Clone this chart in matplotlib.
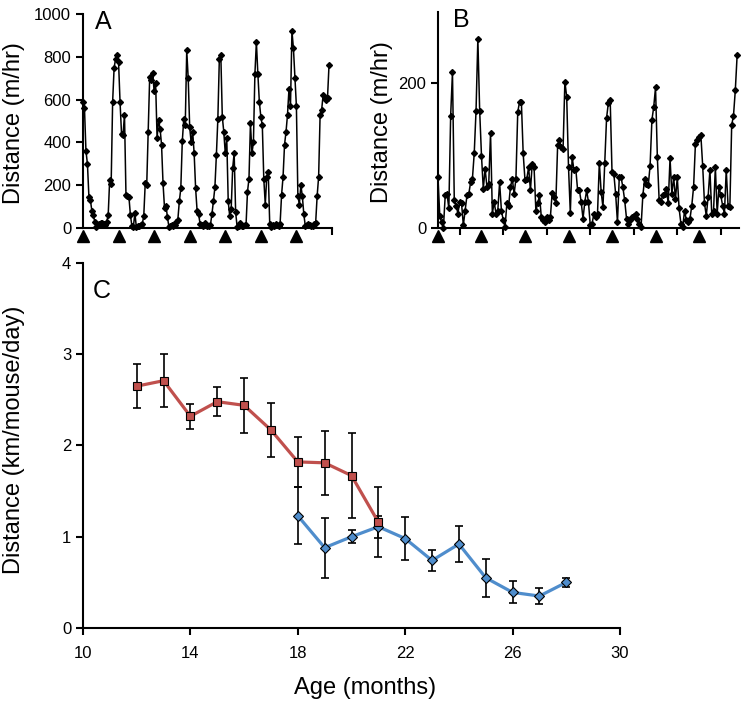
import matplotlib
matplotlib.use("Agg")
import matplotlib.pyplot as plt
import numpy as np

plt.rcParams['font.family'] = ['Liberation Sans', 'DejaVu Sans']

# panel A: hourly running distance (m/hr), one week
dist_a = [590, 560, 360, 300, 145, 130, 80, 60, 28, 5,
          15, 20, 25, 22, 18, 12, 30, 60, 225, 205,
          590, 750, 790, 810, 775, 590, 440, 435, 530, 155,
          150, 145, 60, 10, 5, 70, 5, 10, 8, 12,
          20, 55, 210, 200, 450, 705, 690, 725, 640, 680,
          420, 505, 465, 390, 210, 95, 105, 50, 5, 10,
          12, 8, 15, 28, 38, 125, 185, 405, 510, 480,
          830, 700, 470, 400, 450, 350, 185, 80, 65, 20,
          15, 10, 25, 12, 8, 10, 15, 65, 125, 190,
          340, 510, 790, 810, 520, 450, 350, 420, 125, 55,
          90, 280, 350, 75, 5, 10, 25, 10, 8, 15,
          12, 170, 230, 490, 350, 400, 720, 870, 720, 590,
          520, 480, 230, 110, 240, 260, 20, 5, 15, 10,
          20, 12, 8, 20, 155, 240, 390, 450, 530, 650,
          570, 920, 840, 700, 570, 150, 110, 200, 150, 65,
          10, 15, 20, 12, 8, 10, 18, 25, 150, 240,
          530, 550, 620, 610, 600, 610, 760]

# panel B: hourly running distance (m/hr), one week
dist_b = [70, 17, 8, 0, 45, 47, 27, 155, 215, 38,
          31, 20, 36, 34, 4, 24, 45, 47, 63, 68,
          103, 162, 261, 162, 100, 54, 82, 57, 61, 131,
          20, 36, 20, 24, 63, 24, 11, 1, 34, 31,
          57, 68, 47, 68, 160, 174, 174, 103, 66, 68,
          84, 52, 89, 84,
          24, 34, 45, 15, 11, 8, 15, 11, 15, 49,
          43, 34, 114, 121, 112, 109, 202, 181, 84, 21,
          98, 80, 82, 53, 52, 36, 13, 36, 52, 36,
          4, 6, 20, 15, 20, 90, 50, 29, 90, 152,
          173, 176, 77, 75, 47, 8, 70, 70, 56, 38,
          13, 6, 11, 15, 17,
          20, 13, 6, 1, 45, 68, 61, 59, 86, 149,
          167, 194, 98, 38, 36, 46, 47, 54, 34, 96,
          47, 70, 40, 70, 27, 6, 1, 24, 11, 8,
          13, 31, 57, 116, 121, 126, 128, 86, 34, 17,
          43, 80, 20, 24, 84, 20, 57, 45, 31, 20,
          80, 31, 29, 142, 155, 190, 238]

# lights-off markers (hours)
dark_onsets = [0, 24, 48, 72, 96, 120, 144]

# panel C: distance per day vs age
age_red = [12, 13, 14, 15, 16, 17, 18, 19, 20, 21]
km_red = [2.65, 2.71, 2.32, 2.48, 2.44, 2.17, 1.82, 1.81, 1.67, 1.16]
err_red = [0.24, 0.29, 0.14, 0.16, 0.30, 0.30, 0.27, 0.35, 0.47, 0.38]

age_blue = [18, 19, 20, 21, 22, 23, 24, 25, 26, 27, 28]
km_blue = [1.23, 0.88, 1.00, 1.11, 0.98, 0.74, 0.92, 0.55, 0.39, 0.35, 0.50]
err_blue = [0.31, 0.33, 0.07, 0.12, 0.24, 0.12, 0.20, 0.21, 0.12, 0.09, 0.05]

red = '#C0504D'
blue = '#4F8DCC'

fig = plt.figure(figsize=(7.47, 7.06), dpi=100)
ax_a = fig.add_axes([0.1111, 0.677, 0.3333, 0.303])
ax_b = fig.add_axes([0.5863, 0.677, 0.4029, 0.306])
ax_c = fig.add_axes([0.1111, 0.1105, 0.7189, 0.517])


def style_axes(ax):
    for s in ['top', 'right']:
        ax.spines[s].set_visible(False)
    for s in ['left', 'bottom']:
        ax.spines[s].set_linewidth(1.5)
    ax.tick_params(width=1.5, length=5, labelsize=12, direction='out')


def activity_panel(ax, values, xmax, ymax, yticks, xticks, letter, lab_x):
    hours = np.arange(len(values))
    ax.plot(hours, values, color='black', lw=1.1, marker='D', ms=3,
            clip_on=False, zorder=3)
    ax.set_xlim(0, xmax)
    ax.set_ylim(0, ymax)
    ax.set_yticks(yticks)
    ax.set_xticks(xticks)
    ax.set_xticklabels([])
    style_axes(ax)
    # black triangles under the x axis
    ax.plot(dark_onsets, [-0.037] * len(dark_onsets), linestyle='none',
            marker='^', ms=9, color='black',
            transform=ax.get_xaxis_transform(), clip_on=False)
    ax.text(lab_x, 0.965, letter, transform=ax.transAxes, fontsize=18,
            ha='center', va='center')
    ax.set_ylabel('Distance (m/hr)', fontsize=17)


activity_panel(ax_a, dist_a, 168, 1000, range(0, 1001, 200),
               [168], 'A', 0.08)
ax_a.yaxis.set_label_coords(-0.233, 0.49)

activity_panel(ax_b, dist_b, 166, 298, [0, 200],
               [12, 36, 60, 84, 108, 132, 156], 'B', 0.076)
ax_b.yaxis.set_label_coords(-0.150, 0.49)

# panel C
ax_c.errorbar(age_blue, km_blue, yerr=err_blue, fmt='none', ecolor='black',
              elinewidth=1.2, capsize=3, capthick=1.2, zorder=2)
ax_c.errorbar(age_red, km_red, yerr=err_red, fmt='none', ecolor='black',
              elinewidth=1.2, capsize=3, capthick=1.2, zorder=2)
ax_c.plot(age_blue, km_blue, color=blue, lw=2.3, marker='D', ms=5,
          mfc=blue, mec='black', mew=0.8, zorder=3)
ax_c.plot(age_red, km_red, color=red, lw=2.3, marker='s', ms=5.5,
          mfc=red, mec='black', mew=0.8, zorder=4)
ax_c.set_xlim(10, 30)
ax_c.set_ylim(0, 4)
ax_c.set_xticks([10, 14, 18, 22, 26, 30])
ax_c.set_yticks([0, 1, 2, 3, 4])
style_axes(ax_c)
ax_c.tick_params(axis='x', pad=8)
ax_c.set_xlabel('Age (months)', fontsize=17)
ax_c.xaxis.set_label_coords(0.526, -0.134)
ax_c.set_ylabel('Distance (km/mouse/day)', fontsize=17)
ax_c.yaxis.set_label_coords(-0.108, 0.515)
ax_c.text(0.035, 0.923, 'C', transform=ax_c.transAxes, fontsize=18,
          ha='center', va='center')

fig.savefig('out.png', dpi=100)
